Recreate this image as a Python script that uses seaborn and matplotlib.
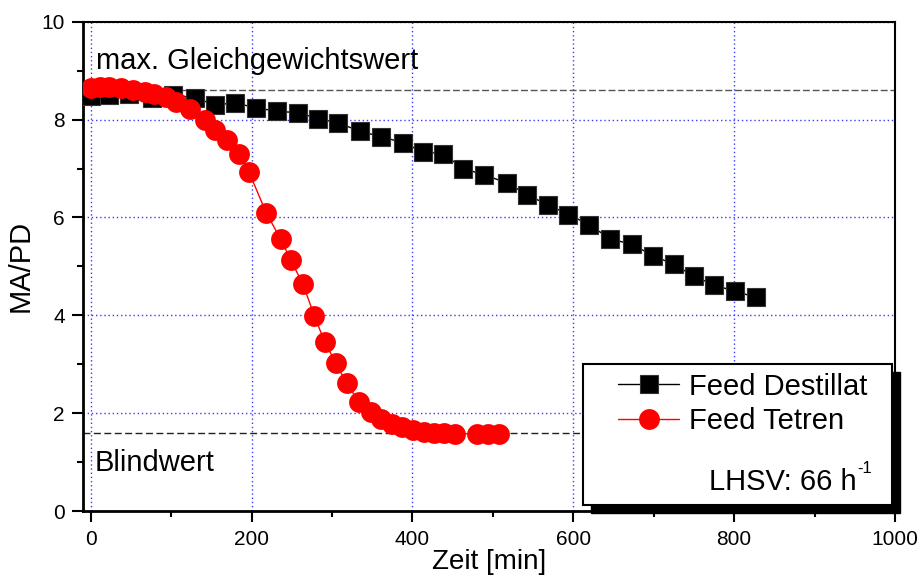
import matplotlib
matplotlib.use("Agg")
import matplotlib.pyplot as plt
import seaborn as sns
import pandas as pd
from matplotlib.patches import Rectangle
from matplotlib.transforms import offset_copy

# ---- data ----
t_dest = [0, 23, 48, 76, 102, 129, 154, 179, 206, 231, 258, 283, 308, 335, 361,
          388, 413, 438, 463, 489, 517, 543, 568, 594, 620, 646, 673, 699, 725,
          750, 775, 801, 827]
v_dest = [8.48, 8.50, 8.52, 8.45, 8.50, 8.45, 8.30, 8.34, 8.24, 8.17, 8.14, 8.02,
          7.93, 7.76, 7.65, 7.53, 7.34, 7.30, 7.00, 6.87, 6.71, 6.46, 6.26, 6.06,
          5.85, 5.56, 5.45, 5.22, 5.04, 4.80, 4.62, 4.49, 4.37]

t_tet = [0, 11, 23, 38, 52, 67, 79, 94, 106, 123, 142, 154, 169, 184, 197, 218,
         236, 249, 264, 278, 291, 305, 318, 334, 348, 361, 374, 387, 401, 414,
         427, 439, 453, 480, 494, 508]
v_tet = [8.65, 8.67, 8.67, 8.64, 8.60, 8.57, 8.53, 8.46, 8.36, 8.22, 7.99, 7.78,
         7.58, 7.30, 6.92, 6.10, 5.56, 5.12, 4.63, 3.99, 3.45, 3.02, 2.61, 2.22,
         2.02, 1.88, 1.78, 1.71, 1.66, 1.62, 1.60, 1.59, 1.58, 1.58, 1.58, 1.58]

series_names = ["Feed Destillat", "Feed Tetren"]
x_major = [0, 200, 400, 600, 800, 1000]
x_minor = [100, 300, 500, 700, 900]
y_major = [0, 2, 4, 6, 8, 10]
y_minor = [1, 3, 5, 7, 9]
max_level = 8.61
blank_level = 1.59

df_dest = pd.DataFrame({"t": t_dest, "v": v_dest})
df_tet = pd.DataFrame({"t": t_tet, "v": v_tet})

# ---- style ----
sns.set_theme(style="ticks")
plt.rcParams["font.family"] = ["Liberation Sans", "DejaVu Sans"]
plt.rcParams["text.color"] = "black"
plt.rcParams["axes.labelcolor"] = "black"
plt.rcParams["legend.labelcolor"] = "black"

fig = plt.figure(figsize=(9.21, 5.79), dpi=100)
ax = fig.add_axes([0.0898, 0.1174, 0.8820, 0.8451])

ax.set_axisbelow(True)
ax.grid(True, which="major", color="#3a3aff", linestyle=(0, (1, 2)), linewidth=1)

ax.axhline(max_level, color="#555555", linestyle=(0, (5, 2)), linewidth=1, zorder=1.5)
ax.axhline(blank_level, color="#222222", linestyle=(0, (5, 2.5)), linewidth=1, zorder=1.5)

sns.lineplot(data=df_dest, x="t", y="v", ax=ax, color="black", linewidth=1,
             marker="s", markersize=13, markeredgecolor="#333333",
             markeredgewidth=0.8, estimator=None, sort=False, errorbar=None,
             label=series_names[0], zorder=3)
sns.lineplot(data=df_tet, x="t", y="v", ax=ax, color="red", linewidth=1,
             marker="o", markersize=15, markeredgewidth=0,
             estimator=None, sort=False, errorbar=None,
             label=series_names[1], zorder=4)

ax.set_xlim(-10, 1000)
ax.set_ylim(0, 10)
ax.set_xticks(x_major)
ax.set_xticks(x_minor, minor=True)
ax.set_yticks(y_major)
ax.set_yticks(y_minor, minor=True)
ax.tick_params(axis="both", which="major", direction="out", length=8, width=1.5,
               labelsize=15, pad=5, color="black", labelcolor="black")
ax.tick_params(axis="both", which="minor", direction="out", length=4.5, width=1.5,
               color="black")
ax.tick_params(axis="x", which="major", pad=6)

for side in ["left", "bottom"]:
    ax.spines[side].set_linewidth(2)
    ax.spines[side].set_color("black")
for side in ["top", "right"]:
    ax.spines[side].set_linewidth(1.5)
    ax.spines[side].set_color("black")
    ax.spines[side].set_zorder(8)

ax.set_xlabel("Zeit [min]", fontsize=20, labelpad=0, color="black")
ax.set_ylabel("MA/PD", fontsize=21, labelpad=5, color="black")

ax.text(7, 9.03, "max. Gleichgewichtswert", fontsize=21, ha="left", va="baseline",
        color="black")
ax.text(5, 0.82, "Blindwert", fontsize=21, ha="left", va="baseline", color="black")

# ---- legend box with shadow ----
bx0, by0, bw, bh = 0.616, 0.0123, 0.380, 0.288
shadow_tr = offset_copy(ax.transAxes, fig=fig, x=8, y=-8, units="dots")
ax.add_patch(Rectangle((bx0, by0), bw, bh, transform=shadow_tr, facecolor="black",
                       edgecolor="black", zorder=5, clip_on=False))
ax.add_patch(Rectangle((bx0, by0), bw, bh, transform=ax.transAxes, facecolor="white",
                       edgecolor="black", linewidth=1.5, zorder=5.5, clip_on=False))

handles, labels = ax.get_legend_handles_labels()
leg = ax.legend(handles, labels, loc="upper left", bbox_to_anchor=(0.659, 0.283),
                frameon=False, fontsize=21, handlelength=2.1, handletextpad=0.35,
                borderpad=0, borderaxespad=0, labelspacing=0.22, labelcolor="black")
leg.set_zorder(6)

ax.text(0.9525, 0.0429, "LHSV: 66 h", transform=ax.transAxes,
        ha="right", va="baseline", fontsize=21, color="black", zorder=7)
ax.text(0.9525, 0.0429, "-1", transform=offset_copy(ax.transAxes, fig=fig, x=1, y=17,
        units="dots"), ha="left", va="baseline", fontsize=12, color="black", zorder=7)

fig.savefig("out.png", dpi=100)
